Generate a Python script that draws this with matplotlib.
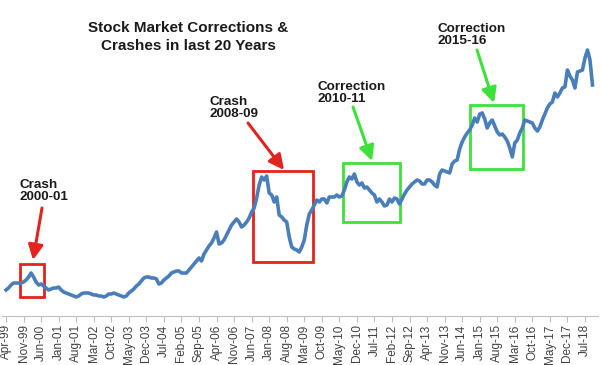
import numpy as np
import matplotlib
matplotlib.use("Agg")
import matplotlib.pyplot as plt
from matplotlib.patches import Rectangle

plt.rcParams["font.family"] = ["Liberation Sans", "DejaVu Sans"]

# monthly index level, Apr-99 .. Oct-18 (arbitrary units)
level = [
    26, 28, 31, 33, 33, 33, 33, 34, 36, 39,
    43, 39, 34, 31, 32, 30, 28, 26, 27, 28,
    28, 29, 26, 24, 23, 22, 21, 20, 19, 20,
    22, 23, 23, 23, 22, 21, 21, 20, 20, 19,
    20, 22, 22, 23, 22, 21, 20, 19, 20, 23,
    25, 27, 30, 32, 35, 38, 39, 39, 38, 38,
    37, 32, 33, 36, 38, 40, 43, 44, 45, 45,
    43, 43, 43, 46, 49, 52, 55, 58, 55, 62,
    66, 70, 73, 78, 84, 72, 73, 76, 81, 86,
    91, 94, 97, 94, 89, 91, 94, 98, 104, 108,
    118, 131, 139, 136, 140, 123, 121, 114, 119, 101,
    99, 96, 94, 79, 69, 67, 66, 64, 69, 76,
    91, 102, 106, 111, 116, 114, 117, 117, 113, 119,
    119, 119, 121, 119, 120, 126, 134, 139, 137, 142,
    134, 131, 133, 128, 129, 126, 123, 121, 114, 117,
    114, 110, 111, 117, 114, 118, 117, 112, 117, 122,
    126, 129, 132, 134, 136, 135, 132, 132, 136, 136,
    134, 131, 129, 142, 146, 145, 144, 143, 152, 155,
    156, 167, 174, 179, 183, 186, 191, 198, 194, 202,
    203, 197, 188, 193, 196, 190, 184, 181, 182, 179,
    175, 168, 159, 173, 176, 183, 188, 196, 195, 194,
    193, 188, 185, 189, 196, 202, 208, 212, 214, 223,
    219, 223, 228, 229, 246, 240, 236, 228, 244, 245,
    246, 258, 266, 256, 231,
]

tick_labels = [
    "Apr-99", "Nov-99", "Jun-00", "Jan-01", "Aug-01", "Mar-02", "Oct-02",
    "May-03", "Dec-03", "Jul-04", "Feb-05", "Sep-05", "Apr-06", "Nov-06",
    "Jun-07", "Jan-08", "Aug-08", "Mar-09", "Oct-09", "May-10", "Dec-10",
    "Jul-11", "Feb-12", "Sep-12", "Apr-13", "Nov-13", "Jun-14", "Jan-15",
    "Aug-15", "Mar-16", "Oct-16", "May-17", "Dec-17", "Jul-18",
]
tick_step = 7

# highlighted periods: (label, first month, last month, low, high, colour)
periods = [
    ("Crash\n2000-01", 5.6, 15.2, 19, 52, "#e3231f"),
    ("Crash\n2008-09", 98.7, 122.3, 54, 145, "#e3231f"),
    ("Correction\n2010-11", 134.3, 157.1, 94, 153, "#3ee03a"),
    ("Correction\n2015-16", 185.0, 206.2, 147, 211, "#3ee03a"),
]
# label position and arrow (tail, tip) in figure pixels from top-left
label_pos = [(19, 191), (209, 108), (318, 93), (437, 35)]
arrows = [((42, 208), (33, 260)), ((248, 123), (284, 170)),
          ((353, 107), (372, 161)), ((477, 50), (494, 103))]

W, H = 602, 365
fig = plt.figure(figsize=(W / 100, H / 100), dpi=100)
ax = fig.add_axes([2 / W, 49 / H, 596 / W, 286 / H])

months = np.arange(len(level))
ax.plot(months, level, color="#4a7ebb", lw=2.6, solid_joinstyle="round")

ax.set_xlim(-1.6, 236.2)
ax.set_ylim(0, 286)
ticks = np.arange(len(tick_labels)) * tick_step
ax.set_xticks(ticks)
ax.set_xticklabels(tick_labels, rotation=90, fontsize=8.5, color="#404040")
ax.tick_params(axis="x", length=4, color="#bfbfbf", pad=2)
ax.set_yticks([])
for s in ["left", "right", "top"]:
    ax.spines[s].set_visible(False)
ax.spines["bottom"].set_color("#bfbfbf")

for (label, m0, m1, lo, hi, col), (lx, ly), (tail, tip) in zip(periods, label_pos, arrows):
    ax.add_patch(Rectangle((m0, lo), m1 - m0, hi - lo, fill=False,
                           edgecolor=col, lw=2.0))
    fig.text(lx / W, 1 - ly / H, label, fontsize=9.7, fontweight="bold",
             color="#1a1a1a", ha="left", va="center", linespacing=1.05)
    ax.annotate("", xy=(tip[0], H - tip[1]), xytext=(tail[0], H - tail[1]),
                xycoords="figure pixels", textcoords="figure pixels",
                arrowprops=dict(arrowstyle="-|>,head_length=0.9,head_width=0.45",
                                color=col, lw=2.2, shrinkA=0, shrinkB=0))

fig.text(188 / W, 1 - 37 / H, "Stock Market Corrections &\nCrashes in last 20 Years",
         fontsize=11, fontweight="bold", color="#1a1a1a", ha="center", va="center",
         linespacing=1.3)

fig.savefig("out.png", dpi=100)
